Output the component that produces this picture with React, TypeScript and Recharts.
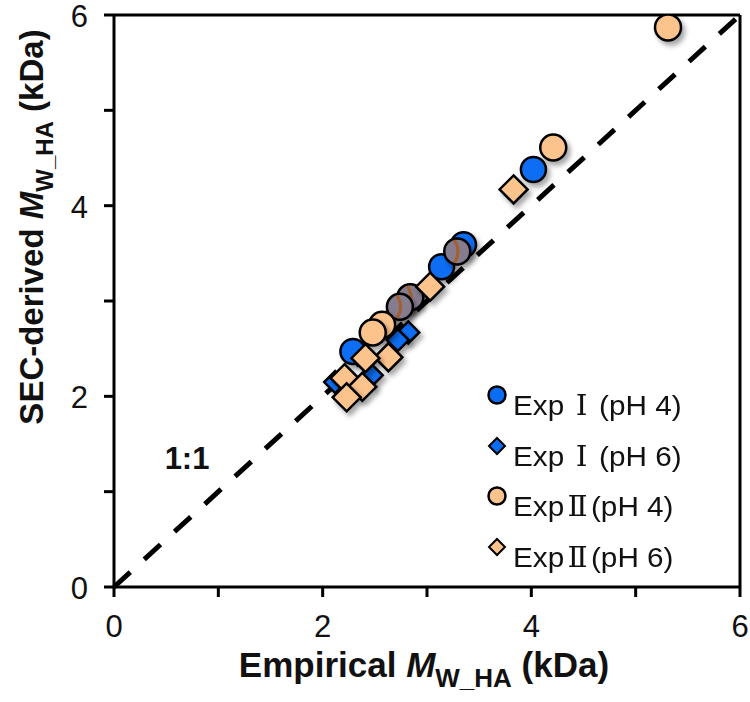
import React from 'react';
import { ScatterChart, Scatter, XAxis, YAxis, ReferenceLine, ReferenceDot, Label } from 'recharts';

const expIpH4 = [
  { x: 4.02, y: 4.38 },
  { x: 3.35, y: 3.59 },
  { x: 3.14, y: 3.36 },
  { x: 2.84, y: 3.04 },
  { x: 2.74, y: 2.94 },
  { x: 2.29, y: 2.47 },
];
const expIpH6 = [
  { x: 2.82, y: 2.67 },
  { x: 2.72, y: 2.59 },
  { x: 2.47, y: 2.22 },
  { x: 2.12, y: 2.15 },
];
const expIIpH4 = [
  { x: 5.31, y: 5.87 },
  { x: 4.21, y: 4.61 },
  { x: 3.29, y: 3.52 },
  { x: 2.84, y: 3.04 },
  { x: 2.74, y: 2.94 },
  { x: 2.57, y: 2.75 },
  { x: 2.48, y: 2.67 },
];
const expIIpH6 = [
  { x: 3.83, y: 4.17 },
  { x: 3.03, y: 3.15 },
  { x: 2.63, y: 2.41 },
  { x: 2.41, y: 2.40 },
  { x: 2.21, y: 2.19 },
  { x: 2.38, y: 2.10 },
  { x: 2.23, y: 1.99 },
];

const seriesNames = ['Exp \u2160 (pH 4)', 'Exp \u2160 (pH 6)', 'Exp\u2161(pH 4)', 'Exp\u2161(pH 6)'];
const axisTicks = [0, 1, 2, 3, 4, 5, 6];
const ratioLabelAt = { x: 0.7, y: 1.35 };

const BLUE = '#0a6ef4';
const ORANGE = '#fcc38d';
const GREY = '#857b8e';
const FONT = "'Liberation Sans', Arial, 'Noto Sans CJK JP', sans-serif";
const NUMERAL_FONT = "'DejaVu Serif', 'Liberation Serif', serif";

// orange circles sitting on top of a blue one come out greyish in the original
const expIIpH4Rows = expIIpH4.map(p => ({
  ...p,
  mixed: expIpH4.some(b => Math.hypot(b.x - p.x, b.y - p.y) < 0.12),
}));

const circleShape = (fill: string, r: number) => (props: any) => {
  const { cx, cy, payload } = props;
  if (payload?.mixed) {
    return (
      <g filter="url(#mkShadow)">
        <circle cx={cx} cy={cy} r={r} fill={GREY} stroke="#000" strokeWidth={2.5} />
        <path
          d={`M ${cx - 3} ${cy - r + 2} A ${r * 1.4} ${r * 1.4} 0 0 1 ${cx - 3} ${cy + r - 2}`}
          fill="none"
          stroke="#a45e2b"
          strokeWidth={3}
        />
      </g>
    );
  }
  return <circle cx={cx} cy={cy} r={r} fill={fill} stroke="#000" strokeWidth={2.5} filter="url(#mkShadow)" />;
};

const diamondShape = (fill: string, h: number) => (props: any) => {
  const { cx, cy } = props;
  const pts = `${cx},${cy - h} ${cx + h},${cy} ${cx},${cy + h} ${cx - h},${cy}`;
  return <polygon points={pts} fill={fill} stroke="#000" strokeWidth={2.5} strokeLinejoin="miter" filter="url(#mkShadow)" />;
};

const XTick = (props: any) => {
  const { x, y, payload } = props;
  if (payload.value % 2 !== 0) return null;
  return (
    <text x={x} y={y + 38} textAnchor="middle" fontSize={31} fontFamily={FONT} fill="#111">
      {payload.value}
    </text>
  );
};

const YTick = (props: any) => {
  const { x, y, payload } = props;
  if (payload.value % 2 !== 0) return null;
  return (
    <text x={x - 14} y={y + 1} dy="0.36em" textAnchor="end" fontSize={31} fontFamily={FONT} fill="#111">
      {payload.value}
    </text>
  );
};

const XTitle = (props: any) => {
  const { viewBox } = props;
  const cx = viewBox.x + viewBox.width / 2 - 3;
  const by = viewBox.y + 90;
  return (
    <text x={cx} y={by} textAnchor="middle" fontSize={35} fontWeight="bold" fontFamily={FONT} fill="#111">
      Empirical <tspan fontStyle="italic">M</tspan>
      <tspan fontSize={26} dy={10}>W_HA</tspan>
      <tspan dy={-10}> (kDa)</tspan>
    </text>
  );
};

const YTitle = (props: any) => {
  const { viewBox } = props;
  const bx = viewBox.x + 43;
  const cy = viewBox.y + 212;
  return (
    <text
      x={bx}
      y={cy}
      transform={`rotate(-90, ${bx}, ${cy})`}
      textAnchor="middle"
      fontSize={33}
      fontWeight="bold"
      fontFamily={FONT}
      fill="#111"
    >
      SEC-derived <tspan fontStyle="italic">M</tspan>
      <tspan fontSize={24} dy={10}>W_HA</tspan>
      <tspan dy={-10}> (kDa)</tspan>
    </text>
  );
};

const legendMarkers = [
  { kind: 'circle', fill: BLUE },
  { kind: 'diamond', fill: BLUE },
  { kind: 'circle', fill: ORANGE },
  { kind: 'diamond', fill: ORANGE },
];

// the Roman numerals in the original have bars top and bottom, so use a serif face
const LegendName = ({ name }: { name: string }) => {
  const parts = name.split(/([\u2160\u2161])/);
  return (
    <>
      {parts.map((p, i) =>
        /[\u2160\u2161]/.test(p) ? (
          <span key={i} style={{ fontFamily: NUMERAL_FONT, fontSize: 27, margin: '0 3px' }}>{p}</span>
        ) : (
          <span key={i}>{p}</span>
        )
      )}
    </>
  );
};

const ChartLegend = () => (
  <div style={{ position: 'absolute', left: 486, top: 384, fontFamily: FONT }}>
    {seriesNames.map((name, i) => (
      <div key={name} style={{ position: 'relative', height: 50.5 }}>
        <svg width={24} height={24} style={{ position: 'absolute', left: 0, top: 0 }}>
          {legendMarkers[i].kind === 'circle' ? (
            <circle cx={11} cy={11} r={8.5} fill={legendMarkers[i].fill} stroke="#000" strokeWidth={2.5} />
          ) : (
            <polygon points="11,3 19,11 11,19 3,11" fill={legendMarkers[i].fill} stroke="#000" strokeWidth={2} />
          )}
        </svg>
        <span
          style={{
            position: 'absolute',
            left: 27,
            top: 7,
            fontSize: 27,
            lineHeight: '30px',
            color: '#111',
            whiteSpace: 'pre',
            transform: 'scaleX(1.1)',
            transformOrigin: 'left center',
          }}
        >
          <LegendName name={name} />
        </span>
      </div>
    ))}
  </div>
);

export default function App() {
  return (
    <div style={{ position: 'absolute', left: 0, top: 0, width: 750, height: 702, background: '#fff' }}>
      <ScatterChart width={750} height={702} margin={{ top: 15, right: 10, left: 0, bottom: 0 }}>
        <defs>
          <filter id="mkShadow" x="-50%" y="-50%" width="200%" height="200%">
            <feDropShadow dx={3} dy={4} stdDeviation={2.5} floodColor="#000" floodOpacity={0.35} />
          </filter>
        </defs>
        <XAxis
          type="number"
          dataKey="x"
          domain={[0, 6]}
          ticks={axisTicks}
          interval={0}
          height={115}
          axisLine={{ stroke: '#000', strokeWidth: 3 }}
          tickLine={{ stroke: '#000', strokeWidth: 3 }}
          tickSize={10}
          tick={<XTick />}
          allowDataOverflow
        >
          <Label content={<XTitle />} />
        </XAxis>
        <YAxis
          type="number"
          dataKey="y"
          domain={[0, 6]}
          ticks={axisTicks}
          interval={0}
          width={114}
          axisLine={{ stroke: '#000', strokeWidth: 3 }}
          tickLine={{ stroke: '#000', strokeWidth: 3 }}
          tickSize={10}
          tick={<YTick />}
          allowDataOverflow
        >
          <Label content={<YTitle />} />
        </YAxis>
        <ReferenceLine y={6} stroke="#000" strokeWidth={3} />
        <ReferenceLine x={6} stroke="#000" strokeWidth={3} />
        <ReferenceLine
          segment={[{ x: 0, y: 0 }, { x: 6, y: 6 }]}
          stroke="#000"
          strokeWidth={5}
          strokeDasharray="22 19"
        />
        <ReferenceDot
          x={ratioLabelAt.x}
          y={ratioLabelAt.y}
          r={0}
          fill="none"
          stroke="none"
          label={{ value: '1:1', position: 'center', fontSize: 31, fontWeight: 'bold', fill: '#111', fontFamily: FONT }}
        />
        <Scatter data={expIpH4} shape={circleShape(BLUE, 12.5)} isAnimationActive={false} />
        <Scatter data={expIpH6} shape={diamondShape(BLUE, 11)} isAnimationActive={false} />
        <Scatter data={expIIpH4Rows} shape={circleShape(ORANGE, 13)} isAnimationActive={false} />
        <Scatter data={expIIpH6} shape={diamondShape(ORANGE, 14)} isAnimationActive={false} />
      </ScatterChart>
      <ChartLegend />
    </div>
  );
}
